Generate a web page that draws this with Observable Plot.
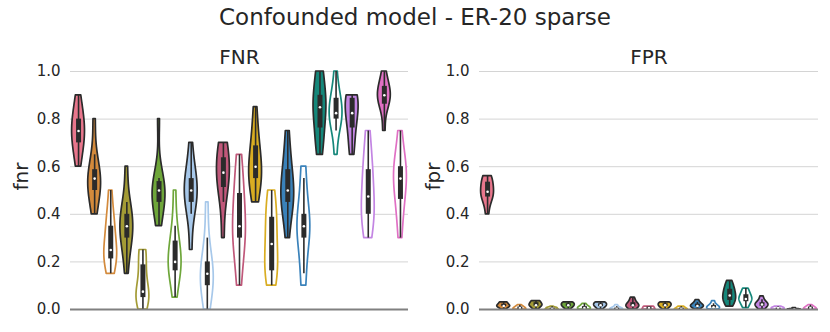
<!DOCTYPE html>
<html><head><meta charset="utf-8">
<script src="https://cdn.jsdelivr.net/npm/d3@7"></script>
<script src="https://cdn.jsdelivr.net/npm/@observablehq/plot@0.6"></script>
<style>
body{margin:0;background:#fff;font-family:"DejaVu Sans",sans-serif;}
#wrap{position:relative;width:830px;height:332px;overflow:hidden;background:#fff;}
#title{position:absolute;top:4px;left:0;width:830px;text-align:center;font-size:23px;line-height:26px;color:#262626;z-index:2;}
.panel{position:absolute;top:0;}
</style></head><body>
<div id="wrap"><div id="title">Confounded model - ER-20 sparse</div></div>
<script>
// 21 violins per panel: first one alone, then 10 pairs (filled, outline)
const violinColors = ["#e8768c","#d38a3c","#d38a3c","#a39b35","#a39b35","#6ea63a","#6ea63a",
  "#a7c8ea","#a7c8ea","#c0587a","#c0587a","#d9ad22","#d9ad22","#3a82ba","#3a82ba",
  "#15877a","#15877a","#c385e3","#c385e3","#e070c4","#e070c4"];
const violinFilled = [true,true,false,true,false,true,false,true,false,true,false,
  true,false,true,false,true,false,true,false,true,false];

const fnrSamples = [
  [0.6,0.65,0.7,0.7,0.75,0.75,0.8,0.8,0.85,0.9],
  [0.4,0.45,0.5,0.5,0.55,0.55,0.55,0.6,0.65,0.8],
  [0.15,0.2,0.2,0.25,0.25,0.25,0.35,0.35,0.4,0.5],
  [0.15,0.25,0.3,0.3,0.35,0.35,0.4,0.4,0.45,0.6],
  [0,0.05,0.05,0.05,0.05,0.1,0.15,0.2,0.25,0.25],
  [0.35,0.4,0.45,0.45,0.5,0.5,0.5,0.55,0.55,0.8],
  [0.05,0.15,0.15,0.2,0.2,0.2,0.25,0.3,0.35,0.5],
  [0.25,0.4,0.45,0.45,0.5,0.5,0.55,0.55,0.6,0.7],
  [0,0.05,0.1,0.1,0.15,0.15,0.2,0.2,0.3,0.45],
  [0.3,0.45,0.5,0.55,0.55,0.6,0.6,0.65,0.7,0.7],
  [0.1,0.2,0.3,0.3,0.35,0.35,0.45,0.5,0.55,0.65],
  [0.45,0.5,0.55,0.55,0.6,0.6,0.65,0.7,0.75,0.85],
  [0.1,0.15,0.15,0.2,0.25,0.3,0.35,0.4,0.45,0.5],
  [0.3,0.4,0.45,0.45,0.5,0.5,0.55,0.6,0.65,0.75],
  [0.1,0.15,0.3,0.3,0.35,0.35,0.4,0.4,0.55,0.6],
  [0.65,0.7,0.75,0.8,0.85,0.85,0.9,0.9,1.0,1.0],
  [0.65,0.75,0.8,0.8,0.8,0.85,0.85,0.9,0.9,1.0],
  [0.65,0.7,0.75,0.8,0.8,0.85,0.85,0.9,0.9,0.9],
  [0.3,0.35,0.4,0.4,0.45,0.5,0.55,0.6,0.65,0.75],
  [0.75,0.85,0.85,0.9,0.9,0.9,0.9,0.95,0.95,1.0],
  [0.3,0.4,0.45,0.5,0.55,0.55,0.6,0.6,0.65,0.75]
];

const fprSamples = [
  [0.4,0.45,0.47,0.48,0.49,0.5,0.52,0.54,0.55,0.56],
  [0,0.006,0.012,0.012,0.012,0.018,0.018,0.024,0.03,0.03],
  [0,0,0,0,0.006,0.006,0.006,0.012,0.012,0.018],
  [0,0.006,0.012,0.018,0.018,0.018,0.024,0.03,0.035,0.035],
  [0,0,0,0,0,0.006,0.006,0.006,0.006,0.012],
  [0,0.006,0.012,0.012,0.018,0.018,0.024,0.024,0.03,0.03],
  [0,0,0,0.006,0.006,0.006,0.012,0.012,0.018,0.024],
  [0,0.006,0.012,0.012,0.018,0.018,0.024,0.024,0.03,0.03],
  [0,0,0,0,0,0.006,0.006,0.006,0.012,0.018],
  [0,0.006,0.012,0.012,0.018,0.018,0.024,0.03,0.04,0.05],
  [0,0,0,0,0.006,0.006,0.006,0.012,0.012,0.012],
  [0,0.006,0.012,0.012,0.018,0.018,0.024,0.024,0.03,0.03],
  [0,0,0,0,0,0.006,0.006,0.006,0.012,0.012],
  [0,0.006,0.012,0.012,0.012,0.018,0.018,0.024,0.03,0.04],
  [0,0,0.006,0.006,0.006,0.012,0.012,0.018,0.024,0.035],
  [0.012,0.03,0.035,0.047,0.053,0.065,0.076,0.088,0.1,0.12],
  [0.006,0.018,0.03,0.041,0.041,0.047,0.053,0.065,0.076,0.088],
  [0,0.006,0.012,0.018,0.018,0.024,0.024,0.03,0.041,0.055],
  [0,0,0,0,0.006,0.006,0.006,0.006,0.012,0.012],
  [0,0,0,0,0,0,0,0,0.006,0.006],
  [0,0,0,0,0.006,0.006,0.006,0.012,0.012,0.018]
];

const yTicks = [0,0.2,0.4,0.6,0.8,1.0];

function buildViolins(samples){
  const area = [], stats = [];
  samples.forEach((vals, i) => {
    const s = vals.slice().sort(d3.ascending);
    const n = s.length;
    const sd = d3.deviation(s) || 1e-3;
    const bw = sd * Math.pow(n, -0.2);
    const lo = s[0], hi = s[n-1];
    const G = 100;
    const pts = [];
    for (let g = 0; g < G; g++) {
      const y = lo + (hi - lo) * g / (G - 1);
      let dsum = 0;
      for (const v of s) { const z = (y - v) / bw; dsum += Math.exp(-0.5 * z * z); }
      pts.push({y, d: dsum});
    }
    const dmax = d3.max(pts, p => p.d);
    for (const p of pts) {
      const hw = 0.4 * p.d / dmax;
      area.push({id: i, y: p.y, x1: i - hw, x2: i + hw,
        fill: violinFilled[i] ? violinColors[i] : "white",
        stroke: violinFilled[i] ? "#2b2b2b" : violinColors[i]});
    }
    const q1 = d3.quantile(s, 0.25), q2 = d3.quantile(s, 0.5), q3 = d3.quantile(s, 0.75);
    const lim = 1.5 * (q3 - q1);
    const wlo = d3.min(s.filter(v => v >= q1 - lim - 1e-9));
    const whi = d3.max(s.filter(v => v <= q3 + lim + 1e-9));
    stats.push({i, q1, q2, q3, wlo, whi});
  });
  return {area, stats};
}

function panel(samples, subtitle, ylabel, ml, mr, labelDx){
  const {area, stats} = buildViolins(samples);
  return Plot.plot({
    width: 415, height: 332,
    marginLeft: ml, marginRight: mr, marginTop: 71, marginBottom: 23,
    style: {fontFamily: "DejaVu Sans", fontSize: "15px", color: "#262626", background: "white"},
    x: {domain: [-0.5, 20.5], axis: null},
    y: {domain: [0, 1], ticks: yTicks, tickFormat: d3.format(".1f"), tickSize: 0, tickPadding: 10, label: null},
    color: {type: "identity"},
    marks: [
      Plot.ruleY(yTicks.slice(1), {stroke: "#d4d4d4", strokeWidth: 1}),
      Plot.areaX(area, {y: "y", x1: "x1", x2: "x2", z: "id", fill: "fill", stroke: "stroke", strokeWidth: 1.7, curve: "linear"}),
      Plot.ruleX(stats, {x: "i", y1: "wlo", y2: "whi", stroke: "#2b2b2b", strokeWidth: 1.6}),
      Plot.ruleX(stats, {x: "i", y1: "q1", y2: "q3", stroke: "#2b2b2b", strokeWidth: 5}),
      Plot.dot(stats, {x: "i", y: "q2", r: 1.3, fill: "white", stroke: null}),
      Plot.ruleY([0], {stroke: "#808080", strokeWidth: 2}),
      Plot.text([subtitle], {frameAnchor: "top", lineAnchor: "middle", dy: -14, fontSize: 20, text: d => d, fill: "#262626"}),
      Plot.text([ylabel], {frameAnchor: "left", lineAnchor: "middle", rotate: -90, dx: labelDx, fontSize: 20, text: d => d, fill: "#262626"})
    ]
  });
}

const wrap = document.getElementById("wrap");
const p1 = panel(fnrSamples, "FNR", "fnr", 70, 7, -49);
p1.classList.add("panel"); p1.style.left = "0px";
const p2 = panel(fprSamples, "FPR", "fpr", 64, 12, -46);
p2.classList.add("panel"); p2.style.left = "415px";
wrap.appendChild(p1); wrap.appendChild(p2);
</script>
</body></html>
